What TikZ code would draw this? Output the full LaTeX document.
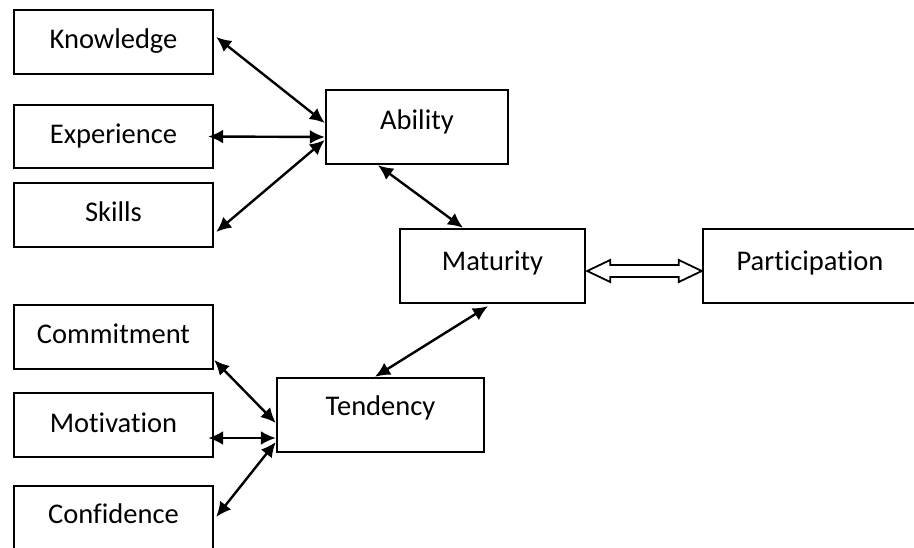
\documentclass[tikz,border=0pt]{standalone}
\usepackage{fontspec}
\setmainfont{Carlito}[Ligatures=NoCommon]
\usepackage{tikz}
\usetikzlibrary{arrows.meta}
\usetikzlibrary{calc}

\tikzset{
  box/.style = {draw, line width=2.4pt, inner sep=0pt, minimum width=199pt, minimum height=64pt,
                font=\fontsize{28.5}{34}\selectfont, text height=21pt, text depth=7pt},
  link/.style = {<->, line width=2.4pt}
}

\begin{document}
\begin{tikzpicture}[x=1pt, y=-1pt, >={Latex[length=15pt, width=14pt]}]
       \useasboundingbox (0,0) rectangle (914,548);
       \clip (0,0) rectangle (914,548);

       % left column, ability group
       \node [box] (know)   at (113.5, 42)  {Knowledge};
       \node [box, minimum height=63pt] (exper) at (113.5, 136.5) {Experience};
       \node [box] (skills) at (113.5, 215) {Skills};

       % left column, tendency group
       \node [box] (commit) at (113.5, 337) {Commitment};
       \node [box] (motiv)  at (113.5, 425) {Motivation};
       \node [box, text height=20pt, text depth=10pt] (conf) at (113.5, 518) {Confidence};

       % middle
       \node [box, minimum width=182pt, minimum height=74pt, text height=20pt, text depth=14pt] (ability) at (417, 127) {Ability};
       \node [box, minimum width=207pt, minimum height=74pt, text height=20pt, text depth=20pt] (tend) at (380.5, 415) {Tendency};
       \node [box, minimum width=185pt, minimum height=74pt, text height=20pt, text depth=10pt] (matur) at (492.5, 266) {Maturity};
       \node [box, minimum width=214pt, minimum height=74pt, text height=20pt, text depth=10pt] (partic) at (810, 266) {Participation};

       % ability links
       \draw [link] ($(know.east)+(2,-5)$)   -- ($(ability.west)+(0,-4)$);
       \draw [link] ($(exper.east)+(-6,0)$)  -- ($(ability.west)+(0,10)$);
       \draw [link] ($(skills.east)+(2,17)$) -- ($(ability.west)+(0,13)$);

       % tendency links
       \draw [link] ($(commit.east)+(0,23)$) -- ($(tend.west)+(0,8)$);
       \draw [link] ($(motiv.east)+(-6,13)$) -- ($(tend.west)+(0,23)$);
       \draw [link] ($(conf.east)+(2,-1)$)   -- ($(tend.west)+(0,27)$);

       % maturity links
       \draw [link] ($(ability.south)+(-39,0)$) -- ($(matur.north)+(-29.5,0)$);
       \draw [link] ($(tend.north)+(-5.5,0)$)   -- ($(matur.south)+(-4.5,2)$);

       % hollow double arrow to participation
       \draw [line width=1.8pt, line join=miter]
             ($(matur.east)+(1,5)$) -- ++(23,-11) -- ++(0,5)
             -- ($(partic.west)+(-23,-1)$) -- ++(0,-5) -- ($(partic.west)+(0,5)$)
             -- ++(-23,11) -- ++(0,-5)
             -- ($(matur.east)+(24,11)$) -- ++(0,5) -- cycle;
\end{tikzpicture}
\end{document}
